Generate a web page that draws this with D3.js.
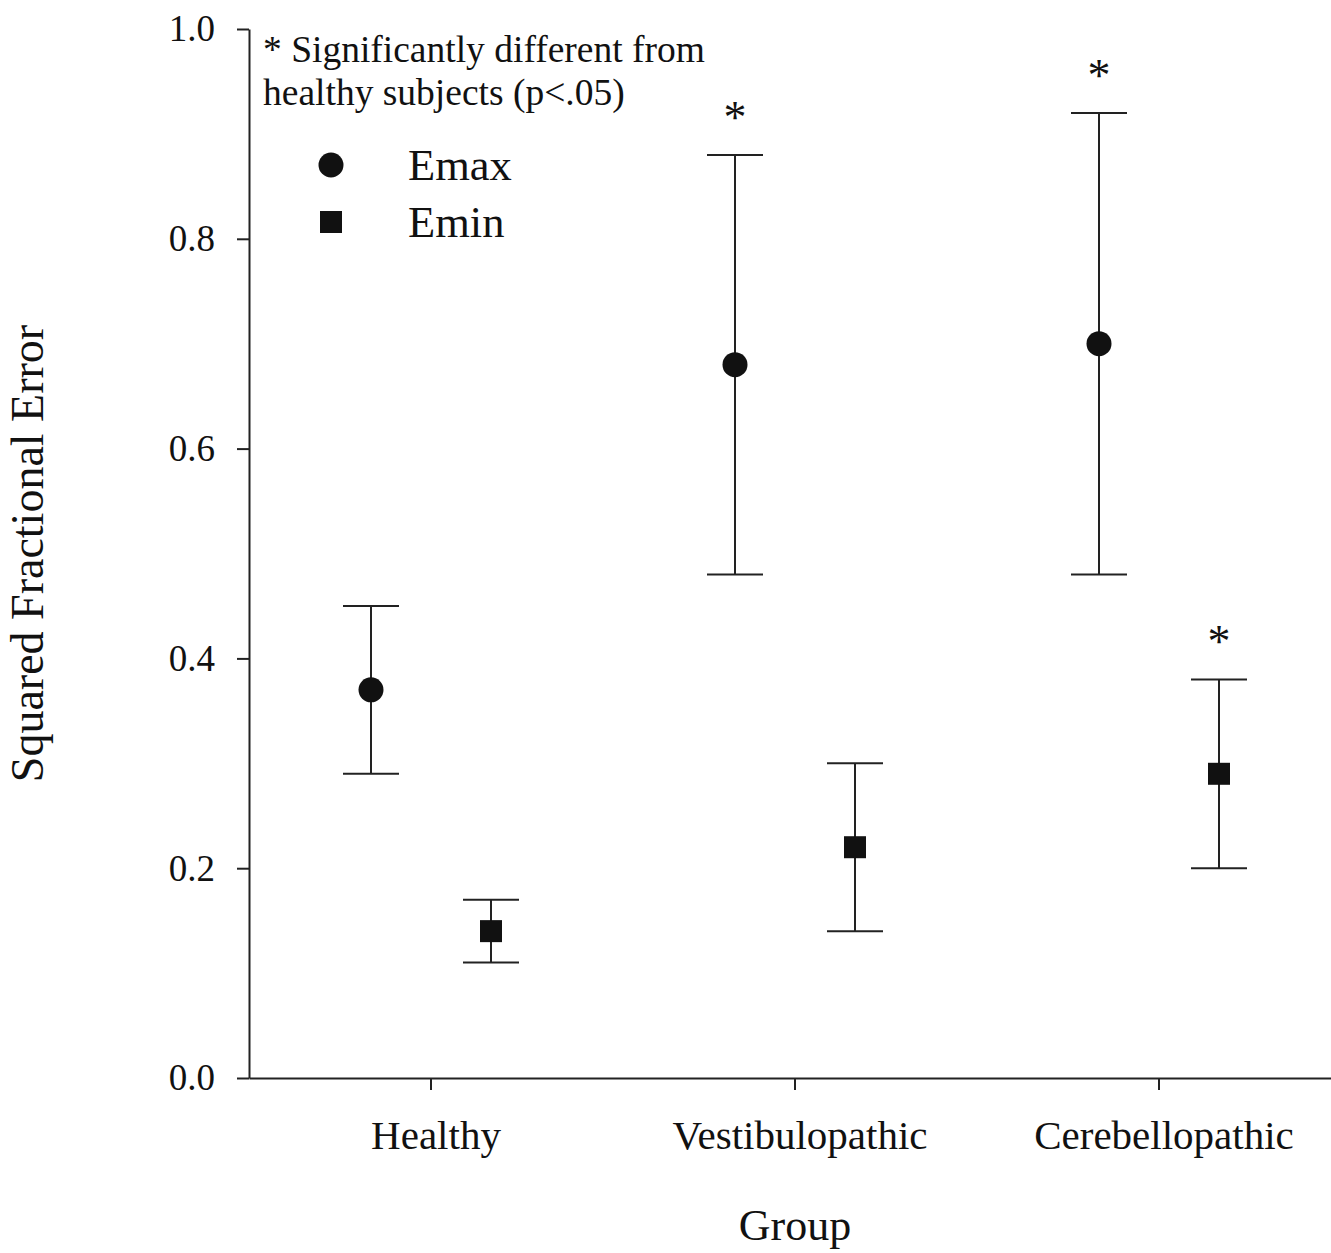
<!DOCTYPE html>
<html>
<head>
<meta charset="utf-8">
<script src="https://cdn.jsdelivr.net/npm/d3@7"></script>
<style>
  body { margin: 0; background: #fff; }
  text { font-family: "Liberation Serif", "Times New Roman", serif; fill: #111; }
</style>
</head>
<body>
<div id="chart"></div>
<script>
const groups = ['Healthy', 'Vestibulopathic', 'Cerebellopathic']
const emaxMean = [0.37, 0.68, 0.70]
const emaxLow = [0.29, 0.48, 0.48]
const emaxHigh = [0.45, 0.88, 0.92]
const emaxSig = [false, true, true]
const eminMean = [0.14, 0.22, 0.29]
const eminLow = [0.11, 0.14, 0.20]
const eminHigh = [0.17, 0.30, 0.38]
const eminSig = [false, false, true]
const yTicks = [0, 0.2, 0.4, 0.6, 0.8, 1.0]

const W = 1331, H = 1253
const MARGIN = { TOP: 29, BOTTOM: 175, LEFT: 249, RIGHT: -10 }
const OFFSET = 60   // horizontal shift of each series from the group tick
const CAP = 28

const svg = d3.select('#chart').append('svg')
  .attr('width', W)
  .attr('height', H)

const x = d3.scaleBand()
  .domain(groups)
  .range([MARGIN.LEFT, W - MARGIN.RIGHT])
  .padding(0)

const y = d3.scaleLinear()
  .domain([0, 1])
  .range([H - MARGIN.BOTTOM, MARGIN.TOP])

const cx = g => x(g) + x.bandwidth() / 2

// axes
const yAxis = svg.append('g')
  .attr('transform', `translate(${MARGIN.LEFT},0)`)
  .call(d3.axisLeft(y).tickValues(yTicks).tickFormat(d3.format('.1f'))
    .tickSize(12).tickSizeOuter(0).tickPadding(22))
yAxis.selectAll('text').attr('font-size', 37).attr('font-family', 'Liberation Serif').attr('fill', '#111')

const xAxis = svg.append('g')
  .attr('transform', `translate(0,${y(0)})`)
  .call(d3.axisBottom(x).tickSize(12).tickSizeOuter(0).tickPadding(30))
xAxis.selectAll('text').attr('font-size', 41).attr('dx', 5)
  .attr('font-family', 'Liberation Serif').attr('fill', '#111')

svg.selectAll('.domain, .tick line').attr('stroke', '#222').attr('stroke-width', 2)

// axis titles
svg.append('text')
  .attr('x', cx('Vestibulopathic'))
  .attr('y', 1240)
  .attr('text-anchor', 'middle')
  .attr('font-size', 44)
  .text('Group')

svg.append('text')
  .attr('transform', `translate(43,${(y(0) + y(1)) / 2}) rotate(-90)`)
  .attr('text-anchor', 'middle')
  .attr('font-size', 46)
  .text('Squared Fractional Error')

// series
const series = [
  { name: 'Emax', mean: emaxMean, low: emaxLow, high: emaxHigh, sig: emaxSig, dx: -OFFSET, shape: 'circle' },
  { name: 'Emin', mean: eminMean, low: eminLow, high: eminHigh, sig: eminSig, dx: OFFSET, shape: 'square' }
]

series.forEach(s => {
  const pts = groups.map((g, i) => ({
    x: cx(g) + s.dx, m: s.mean[i], lo: s.low[i], hi: s.high[i], sig: s.sig[i]
  }))
  const g = svg.append('g')

  g.selectAll('line.stem').data(pts).enter().append('line')
    .attr('x1', d => d.x).attr('x2', d => d.x)
    .attr('y1', d => y(d.lo)).attr('y2', d => y(d.hi))
    .attr('stroke', '#222').attr('stroke-width', 2)

  g.selectAll('line.top').data(pts).enter().append('line')
    .attr('x1', d => d.x - CAP).attr('x2', d => d.x + CAP)
    .attr('y1', d => y(d.hi)).attr('y2', d => y(d.hi))
    .attr('stroke', '#222').attr('stroke-width', 2)

  g.selectAll('line.bot').data(pts).enter().append('line')
    .attr('x1', d => d.x - CAP).attr('x2', d => d.x + CAP)
    .attr('y1', d => y(d.lo)).attr('y2', d => y(d.lo))
    .attr('stroke', '#222').attr('stroke-width', 2)

  if (s.shape === 'circle') {
    g.selectAll('circle').data(pts).enter().append('circle')
      .attr('cx', d => d.x).attr('cy', d => y(d.m)).attr('r', 12.5)
      .attr('fill', '#111')
  } else {
    g.selectAll('rect').data(pts).enter().append('rect')
      .attr('x', d => d.x - 11).attr('y', d => y(d.m) - 11)
      .attr('width', 22).attr('height', 22)
      .attr('fill', '#111')
  }

  g.selectAll('text').data(pts.filter(d => d.sig)).enter().append('text')
    .attr('x', d => d.x).attr('y', d => y(d.hi) - 22)
    .attr('text-anchor', 'middle')
    .attr('font-size', 46)
    .text('*')
})

// note + legend
const note = svg.append('text').attr('font-size', 37.5)
note.append('tspan').attr('x', 263).attr('y', 62).text('* Significantly different from')
note.append('tspan').attr('x', 263).attr('y', 105).text('healthy subjects (p<.05)')

const legend = svg.append('g')
legend.append('circle').attr('cx', 331).attr('cy', 165).attr('r', 12.5).attr('fill', '#111')
legend.append('rect').attr('x', 320).attr('y', 211).attr('width', 22).attr('height', 22).attr('fill', '#111')
legend.append('text').attr('x', 408).attr('y', 180).attr('font-size', 44.5).text('Emax')
legend.append('text').attr('x', 408).attr('y', 237).attr('font-size', 44.5).text('Emin')
</script>
</body>
</html>
